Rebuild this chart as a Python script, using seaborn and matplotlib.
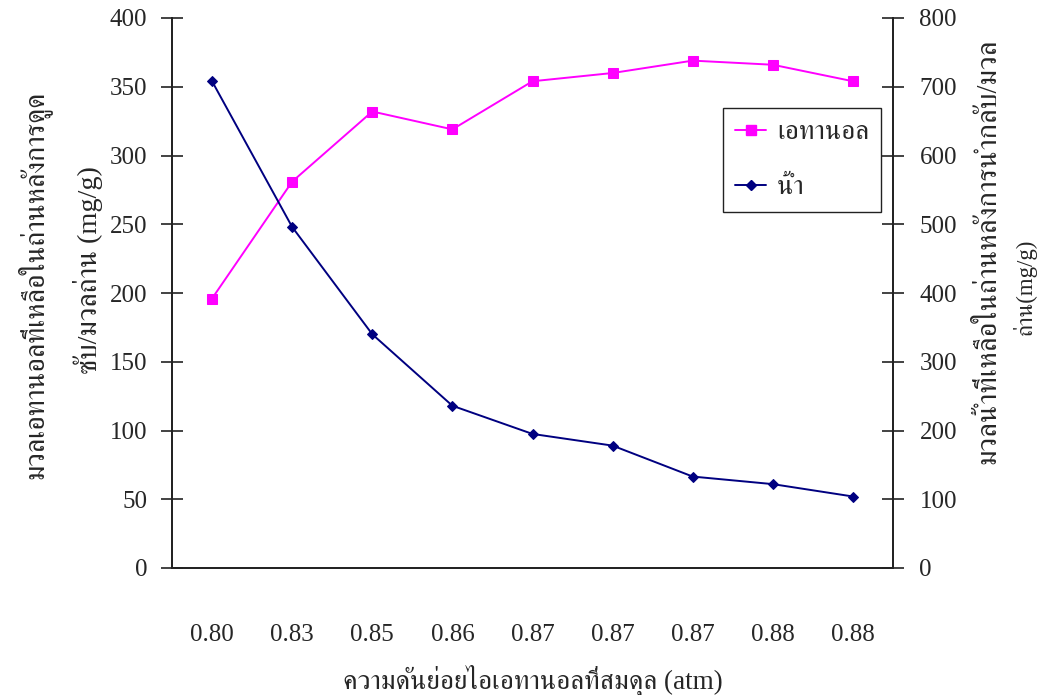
import matplotlib
matplotlib.use("Agg")
import matplotlib.pyplot as plt
from matplotlib.ticker import FixedLocator, NullFormatter, FixedFormatter
from matplotlib.lines import Line2D
import numpy as np
import pandas as pd
import seaborn as sns

# Equilibrium partial pressure of ethanol vapour (atm), one category per run
pressure_labels = ["0.80", "0.83", "0.85", "0.86", "0.87", "0.87", "0.87", "0.88", "0.88"]
# Ethanol left in the carbon after adsorption (mg/g carbon) - left axis
ethanol_mg_g = [196, 281, 332, 319, 354, 360, 369, 366, 354]
# Water left in the carbon after recovery (mg/g carbon) - right axis
water_mg_g = [708, 496, 340, 236, 195, 178, 133, 122, 104]

ethanol_name = "เอทานอล"
water_name = "น้ำ"
x_title = "ความดันย่อยไอเอทานอลที่สมดุล (atm)"
left_title = ["มวลเอทานอลที่เหลือในถ่านหลังการดูด", "ซับ/มวลถ่าน (mg/g)"]
right_title = ["มวลน้ำที่เหลือในถ่านหลังการนำกลับ/มวล", "ถ่าน(mg/g)"]

sns.set_style("white")
plt.rcParams["font.family"] = ["Liberation Serif", "FreeSerif"]
plt.rcParams["font.size"] = 18

df = pd.DataFrame({
    "pos": np.arange(len(pressure_labels)),
    "ethanol": ethanol_mg_g,
    "water": water_mg_g,
})

fig = plt.figure(figsize=(10.4, 6.95), dpi=100)
ax = fig.add_axes([172 / 1040, 1 - 568 / 695, (893 - 172) / 1040, 550 / 695])
ax2 = ax.twinx()

MAGENTA = "#FF00FF"
NAVY = "#000080"

sns.lineplot(data=df, x="pos", y="ethanol", ax=ax, color=MAGENTA, lw=1.4,
             marker="s", markersize=7.5, markeredgecolor=MAGENTA, legend=False)
sns.lineplot(data=df, x="pos", y="water", ax=ax2, color=NAVY, lw=1.4,
             marker="D", markersize=5.5, markeredgecolor=NAVY, legend=False)

n = len(pressure_labels)
for a in (ax, ax2):
    a.set_xlim(-0.5, n - 0.5)
    a.set_xlabel("")
    a.set_ylabel("")
    a.spines["top"].set_visible(False)
    for s in ("left", "right", "bottom"):
        a.spines[s].set_color("#222222")
        a.spines[s].set_linewidth(1.3)

ax.set_ylim(0, 400)
ax.set_yticks(np.arange(0, 401, 50))
ax2.set_ylim(0, 800)
ax2.set_yticks(np.arange(0, 801, 100))

# category boundaries carry the tick marks, centres carry the labels
ax.xaxis.set_major_locator(FixedLocator(np.arange(-0.5, n, 1.0)))
ax.xaxis.set_major_formatter(NullFormatter())
ax.xaxis.set_minor_locator(FixedLocator(np.arange(n)))
ax.xaxis.set_minor_formatter(FixedFormatter(pressure_labels))
ax.tick_params(axis="x", which="major", direction="inout", length=16, width=1.2, color="#222222")
ax.tick_params(axis="x", which="minor", length=0, pad=40, labelsize=18)
ax.tick_params(axis="y", direction="inout", length=16, width=1.2, color="#222222",
               pad=10, labelsize=18, left=True)
ax2.tick_params(axis="y", direction="inout", length=16, width=1.2, color="#222222",
                pad=11, labelsize=18, right=True)

ax.set_xlabel(x_title, fontsize=19.5)
ax.xaxis.set_label_coords(0.5, -0.175)

# two-line axis titles
fig.text(34 / 1040, 1 - 285 / 695, left_title[0], rotation=90, ha="center", va="center", fontsize=20.3)
fig.text(88 / 1040, 1 - 270 / 695, left_title[1], rotation=90, ha="center", va="center", fontsize=20.3)
fig.text(988 / 1040, 1 - 251 / 695, right_title[0], rotation=90, ha="center", va="center", fontsize=20.6)
fig.text(1025 / 1040, 1 - 287 / 695, right_title[1], rotation=90, ha="center", va="center", fontsize=16.5)

handles = [
    Line2D([], [], color=MAGENTA, lw=1.4, marker="s", markersize=7.5, markeredgecolor=MAGENTA),
    Line2D([], [], color=NAVY, lw=1.4, marker="D", markersize=5.5, markeredgecolor=NAVY),
]
leg = ax2.legend(handles, [ethanol_name, water_name], loc="upper left",
                 bbox_to_anchor=(723 / 1040, 1 - 108 / 695), bbox_transform=fig.transFigure,
                 borderaxespad=0, frameon=True, fancybox=False, framealpha=1,
                 edgecolor="#222222", fontsize=19.5, handlelength=1.15, labelspacing=1.1,
                 handletextpad=0.4, borderpad=0.45)
leg.get_frame().set_linewidth(1.0)

fig.savefig("out.png", dpi=100, facecolor="white")
